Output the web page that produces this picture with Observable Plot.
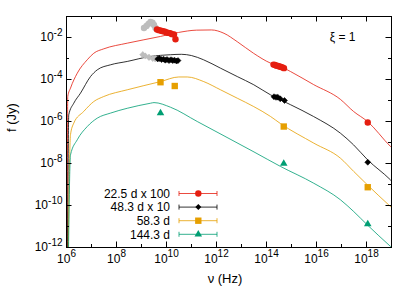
<!DOCTYPE html>
<html><head><meta charset="utf-8">
<script src="https://cdn.jsdelivr.net/npm/d3@7"></script>
<script src="https://cdn.jsdelivr.net/npm/@observablehq/plot@0.6"></script>
<style>
body{margin:0;background:#fff;}
#wrap{position:relative;width:415px;height:290px;}
</style></head><body><div id="wrap"></div>
<script>
// ---- series meta ----
const seriesLabels = ["22.5 d x 100", "48.3 d x 10", "58.3 d", "144.3 d"];
const seriesColors = ["#e51e10", "#000000", "#e69f00", "#009e73"];
const seriesSymbols = ["circle", "diamond2", "square", "triangle"];

// ---- model curves (log10 nu [Hz], log10 f [Jy]) ----
const redModelNu = [6.03, 6.05, 6.16, 6.43, 6.83, 7.09, 7.49, 8.43, 9.76, 10.48, 11.2, 11.8, 12.3, 12.83, 13.48, 14.16, 14.56, 14.96, 15.88, 16.96, 17.48, 18.04, 18.96, 19.1];
const redModelF  = [-14, -4.81, -4.41, -3.70, -3.06, -2.75, -2.54, -2.27, -1.95, -1.76, -1.65, -1.64, -1.80, -2.20, -2.75, -3.22, -3.38, -3.62, -4.24, -4.95, -5.52, -6.00, -7.19, -7.35];
const blackModelNu = [6.04, 6.09, 6.29, 6.56, 6.96, 7.23, 7.76, 8.43, 9.36, 10.16, 10.6, 11.0, 11.48, 12.16, 12.83, 13.49, 14.16, 14.56, 14.96, 15.88, 16.96, 17.48, 18.04, 18.96, 19.1];
const blackModelF  = [-14, -5.68, -5.13, -4.65, -3.86, -3.54, -3.30, -3.14, -2.90, -2.82, -2.80, -2.86, -3.06, -3.46, -3.86, -4.25, -4.73, -4.97, -5.20, -5.76, -6.56, -7.11, -7.82, -8.78, -8.95];
const orangeModelNu = [6.05, 6.16, 6.29, 6.69, 7.09, 7.49, 8.43, 9.76, 10.49, 10.83, 11.49, 12.16, 12.83, 13.49, 14.16, 14.56, 15.89, 16.96, 17.49, 18.03, 18.96, 19.1];
const orangeModelF  = [-14, -6.63, -6.08, -5.52, -5.05, -4.81, -4.49, -4.10, -3.88, -3.88, -4.10, -4.49, -4.89, -5.29, -5.76, -6.10, -7.03, -7.75, -8.38, -9.01, -10.05, -10.2];
const greenModelNu = [6.06, 6.16, 6.43, 6.83, 7.23, 7.76, 8.43, 9.36, 9.5, 10.16, 11.23, 12.5, 13.5, 14.56, 15.89, 16.96, 17.49, 18.03, 18.96, 19.1];
const greenModelF  = [-14, -7.59, -6.87, -6.24, -5.84, -5.60, -5.37, -5.13, -5.10, -5.32, -6.00, -6.81, -7.45, -8.14, -8.94, -9.73, -10.29, -10.92, -11.95, -12.1];

// ---- observed points (log10 nu, log10 f) ----
const redObsNu = [9.62, 9.70, 9.78, 9.86, 9.94, 10.00, 10.08, 10.15, 10.22, 10.30, 10.36, 14.28, 14.34, 14.40, 14.46, 14.52, 14.58, 14.64, 14.70, 18.05];
const redObsF  = [-1.62, -1.65, -1.68, -1.70, -1.72, -1.76, -1.78, -1.80, -1.84, -1.86, -2.08, -3.29, -3.31, -3.34, -3.36, -3.38, -3.40, -3.43, -3.46, -6.05];
const blackObsNu = [9.65, 9.72, 9.80, 9.88, 9.95, 10.02, 10.10, 10.18, 10.25, 10.32, 10.40, 10.46, 14.30, 14.38, 14.45, 14.55, 14.72, 18.05];
const blackObsF  = [-3.02, -3.00, -3.05, -3.03, -3.08, -3.05, -3.10, -3.06, -3.10, -3.08, -3.12, -3.10, -4.82, -4.85, -4.84, -4.92, -5.00, -7.94];
const orangeObsNu = [9.76, 10.33, 14.69, 18.05];
const orangeObsF  = [-4.13, -4.31, -6.24, -9.13];
const greenObsNu = [9.76, 14.69, 18.05];
const greenObsF  = [-5.60, -8.00, -10.89];
const grayUpperNu = [9.10, 9.20, 9.28, 9.36, 9.44, 9.50, 9.56];
const grayUpperF  = [-1.55, -1.45, -1.35, -1.26, -1.30, -1.40, -1.55];
const grayLowerNu = [9.05, 9.15, 9.30, 9.45, 9.55];
const grayLowerF  = [-2.82, -2.88, -2.95, -3.00, -3.02];
// error bars (log10 nu, low, high)
const errNu   = [10.36, 9.05, 9.15, 9.30, 9.45, 9.55, 9.76, 18.05];
const errLo   = [-2.22, -2.95, -3.02, -3.10, -3.15, -3.16, -5.72, -8.02];
const errHi   = [-1.95, -2.70, -2.76, -2.82, -2.86, -2.88, -5.48, -7.86];
const errSer  = [0, 4, 4, 4, 4, 4, 3, 1];

// ---- axes ----
const xTickExps = [6, 7, 8, 9, 10, 11, 12, 13, 14, 15, 16, 17, 18];
const xLabelExps = [6, 8, 10, 12, 14, 16, 18];
const yTickExps = [-12, -11, -10, -9, -8, -7, -6, -5, -4, -3, -2];
const yLabelExps = [-12, -10, -8, -6, -4, -2];

// ---- build tables ----
const p10 = e => Math.pow(10, e);
const models = [
  [redModelNu, redModelF], [blackModelNu, blackModelF],
  [orangeModelNu, orangeModelF], [greenModelNu, greenModelF]
].map(([n, f]) => n.map((v, i) => ({nu: p10(v), f: p10(f[i])})));
const obs = [
  [redObsNu, redObsF], [blackObsNu, blackObsF],
  [orangeObsNu, orangeObsF], [greenObsNu, greenObsF]
].map(([n, f]) => n.map((v, i) => ({nu: p10(v), f: p10(f[i])})));
const grayUpper = grayUpperNu.map((v, i) => ({nu: p10(v), f: p10(grayUpperF[i])}));
const grayLower = grayLowerNu.map((v, i) => ({nu: p10(v), f: p10(grayLowerF[i])}));
const errs = errNu.map((v, i) => ({nu: p10(v), lo: p10(errLo[i]), hi: p10(errHi[i]), s: errSer[i]}));
const gray = "#bdbdbd";
const colorOf = s => s === 4 ? gray : seriesColors[s];

const W = 415, H = 290, mL = 66, mR = 24, mT = 16, mB = 43;
const innerW = W - mL - mR, innerH = H - mT - mB;
const longT = 5.5, shortT = 3;
const font = "'Liberation Sans', Arial, Helvetica, sans-serif";

const marks = [];
models.forEach((d, s) => marks.push(Plot.line(d, {x: "nu", y: "f", stroke: seriesColors[s], strokeWidth: 1, strokeOpacity: 0.8, curve: "monotone-x", clip: true})));
marks.push(Plot.ruleX(errs, {x: "nu", y1: "lo", y2: "hi", stroke: d => colorOf(d.s), strokeWidth: 1}));
marks.push(Plot.dot(grayUpper, {x: "nu", y: "f", symbol: "circle", r: 3.2, fill: gray}));
marks.push(Plot.dot(grayLower, {x: "nu", y: "f", symbol: "diamond2", r: 2.8, fill: gray, stroke: gray, strokeWidth: 0.5}));
const sizes = [3.2, 2.7, 3.6, 2.8];
obs.forEach((d, s) => marks.push(Plot.dot(d, {x: "nu", y: "f", symbol: seriesSymbols[s], r: sizes[s], fill: seriesColors[s], stroke: s === 1 ? "black" : "none", strokeWidth: 0.5})));

// ticks (inward, all four sides)
const xLong = xTickExps.filter(e => e % 2 === 0).map(p10), xShort = xTickExps.filter(e => e % 2 !== 0).map(p10);
const yLong = yTickExps.filter(e => e % 2 === 0).map(p10), yShort = yTickExps.filter(e => e % 2 !== 0).map(p10);
marks.push(Plot.tickX(xLong, {x: d => d, insetTop: innerH - longT, stroke: "black"}));
marks.push(Plot.tickX(xShort, {x: d => d, insetTop: innerH - shortT, stroke: "black"}));
marks.push(Plot.tickX(xLong, {x: d => d, insetBottom: innerH - longT, stroke: "black"}));
marks.push(Plot.tickX(xShort, {x: d => d, insetBottom: innerH - shortT, stroke: "black"}));
marks.push(Plot.tickY(yLong, {y: d => d, insetRight: innerW - longT, stroke: "black"}));
marks.push(Plot.tickY(yShort, {y: d => d, insetRight: innerW - shortT, stroke: "black"}));
marks.push(Plot.tickY(yLong, {y: d => d, insetLeft: innerW - longT, stroke: "black"}));
marks.push(Plot.tickY(yShort, {y: d => d, insetLeft: innerW - shortT, stroke: "black"}));
marks.push(Plot.frame({stroke: "black", strokeWidth: 1}));

// tick labels
marks.push(Plot.text(xLabelExps, {x: d => p10(d), frameAnchor: "bottom", dy: 15, text: d => "10^" + d, fontSize: 12, fill: "black"}));
marks.push(Plot.text(yLabelExps, {y: d => p10(d), frameAnchor: "left", dx: -4, textAnchor: "end", text: d => "10^" + d, fontSize: 12, fill: "black"}));
// axis titles and annotation
marks.push(Plot.text(["f (Jy)"], {frameAnchor: "left", dx: -55, rotate: -90, fontSize: 13, fill: "black"}));
marks.push(Plot.text(["ν (Hz)"], {frameAnchor: "bottom", dy: 35, dx: -4, fontSize: 13, fill: "black"}));
marks.push(Plot.text(["ξ = 1"], {frameAnchor: "top-right", dx: -36, dy: 16, textAnchor: "end", fontSize: 12, fill: "black"}));

const chart = Plot.plot({
  width: W, height: H, marginLeft: mL, marginRight: mR, marginTop: mT, marginBottom: mB,
  style: {fontFamily: font, fontSize: "12px", background: "white", color: "black", overflow: "visible"},
  x: {type: "log", domain: [1e6, 1e19], axis: null},
  y: {type: "log", domain: [1e-12, 1e-1], axis: null},
  marks
});
document.getElementById("wrap").appendChild(chart);

// superscript exponents
d3.select(chart).selectAll("text").each(function() {
  const t = this.textContent;
  const m = /^10\^(-?\d+)$/.exec(t);
  if (!m) return;
  const el = d3.select(this);
  el.text(null);
  el.append("tspan").text("10");
  el.append("tspan").attr("dy", "-0.55em").attr("font-size", "10px").text(m[1]);
});

// legend (inside the frame)
const lg = d3.select(chart).append("g").attr("font-family", font).attr("font-size", 12);
const symFn = {circle: d3.symbolCircle, diamond2: d3.symbolDiamond2, square: d3.symbolSquare, triangle: d3.symbolTriangle};
seriesLabels.forEach((lab, i) => {
  const y = 193.5 + i * 13.6;
  lg.append("text").attr("x", 170).attr("y", y).attr("dy", "0.35em").attr("text-anchor", "end").attr("fill", "black").text(lab);
  const c = seriesColors[i];
  lg.append("line").attr("x1", 179).attr("x2", 217).attr("y1", y).attr("y2", y).attr("stroke", c).attr("stroke-opacity", 0.8);
  lg.append("line").attr("x1", 179).attr("x2", 179).attr("y1", y - 2.5).attr("y2", y + 2.5).attr("stroke", c).attr("stroke-opacity", 0.8);
  lg.append("line").attr("x1", 217).attr("x2", 217).attr("y1", y - 2.5).attr("y2", y + 2.5).attr("stroke", c).attr("stroke-opacity", 0.8);
  lg.append("path").attr("transform", `translate(198.3,${y})`).attr("fill", c)
    .attr("d", d3.symbol(symFn[seriesSymbols[i]], Math.PI * sizes[i] * sizes[i])());
});
</script></body></html>
